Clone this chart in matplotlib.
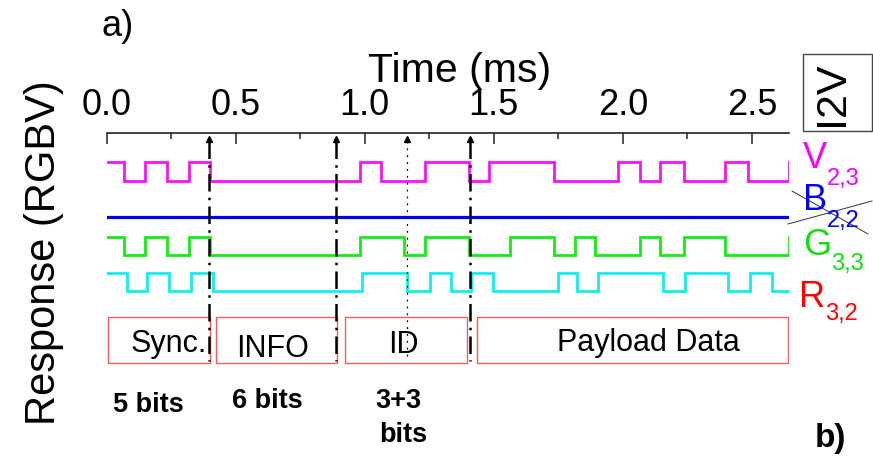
import matplotlib
matplotlib.use("Agg")
import matplotlib.pyplot as plt
from matplotlib.patches import Rectangle
from matplotlib.lines import Line2D

plt.rcParams['font.family'] = ['Liberation Sans', 'DejaVu Sans']

# ---- data: edge times (ms) and logic state held from each time on ----
t_end = 2.645

v_times = [0.0, 0.068, 0.149, 0.232, 0.317, 0.401, 0.983, 1.063, 1.233, 1.404,
           1.482, 1.732, 1.983, 2.066, 2.144, 2.236, 2.394, 2.485, t_end]
v_states = [1, 0, 1, 0, 1, 0, 1, 0, 1, 0, 1, 0, 1, 0, 1, 0, 1, 0, 1]

g_times = [0.0, 0.068, 0.149, 0.232, 0.317, 0.401, 0.983, 1.152, 1.232, 1.404,
           1.564, 1.732, 1.815, 1.893, 2.066, 2.144, 2.236, 2.396, t_end]
g_states = [1, 0, 1, 0, 1, 0, 1, 0, 1, 0, 1, 0, 1, 0, 1, 0, 1, 0, 1]

r_times = [0.0, 0.077, 0.158, 0.242, 0.327, 0.412, 0.991, 1.163, 1.251, 1.336,
           1.411, 1.495, 1.749, 1.824, 1.904, 2.154, 2.242, 2.407, 2.494, 2.577, t_end]
r_states = [1, 0, 1, 0, 1, 0, 1, 0, 1, 0, 1, 0, 1, 0, 1, 0, 1, 0, 1, 0, 0]

b_times = [0.0, t_end]
b_states = [0, 0]

# frame segments
seg_names = ['Sync.', 'INFO', 'ID', 'Payload Data']
seg_start = [0.004, 0.422, 0.924, 1.436]
seg_end = [0.400, 0.893, 1.397, 2.640]
bits_labels = ['5 bits', '6 bits', '3+3', 'bits']
bits_x = [0.160, 0.624, 1.129, 1.149]

# marker lines (ms)
dashdot_marks = [0.395, 0.890, 1.408]
dotted_marks = [1.163]

ticks_major = [0.0, 0.5, 1.0, 1.5, 2.0, 2.5]
ticks_minor = [0.25, 0.75, 1.25, 1.75, 2.25]

W, H = 873, 460


def fx(x):
    return x / W


def fy(y):
    return 1 - y / H


fig = plt.figure(figsize=(W / 100, H / 100), dpi=100)
x0, x1, ytop = 106.7, 789.3, 134
ax = fig.add_axes([fx(x0), 0, (x1 - x0) / W, (H - ytop) / H])
ax.set_xlim(0, t_end)
ax.set_ylim(H - ytop, 0)

# traces: (times, states, low level, colour, linewidth)
swing = 18.4
traces = [
    (v_times, v_states, 47.7, '#ff11ff', 2.0),
    (b_times, b_states, 84.3, '#0000ee', 2.3),
    (g_times, g_states, 122.0, '#11ee11', 2.0),
    (r_times, r_states, 158.3, '#11eeee', 2.0),
]
for times, states, low, col, lw in traces:
    ys = [low - s * swing for s in states]
    ax.step(times, ys, where='post', color=col, lw=lw, solid_joinstyle='miter')

# vertical marker lines with arrow tips
for xm in dashdot_marks:
    ax.plot([xm, xm], [8, 228], color='black', lw=1.8, ls=(0, (7, 2.5, 1, 2.5)))
    ax.plot([xm], [6], marker='^', color='black', ms=5)
for xm in dotted_marks:
    ax.plot([xm, xm], [8, 228], color='black', lw=0.9, ls=(0, (1.5, 4)))
    ax.plot([xm], [6], marker='^', color='black', ms=5)

# frame boxes
box_top, box_h = 184.3, 46
label_y = [218, 223, 219, 217]
label_dx = [0.037, -0.016, -0.01, 0.06]
for i, name in enumerate(seg_names):
    ax.add_patch(Rectangle((seg_start[i], box_top), seg_end[i] - seg_start[i], box_h,
                           fill=False, ec='#ff5a5a', lw=1.0))
    cx = (seg_start[i] + seg_end[i]) / 2 + label_dx[i]
    ax.text(cx, label_y[i], name, ha='center', va='baseline', fontsize=22)

bits_y = [278, 274, 274, 308]
for lab, bx, by in zip(bits_labels, bits_x, bits_y):
    ax.text(bx, by, lab, ha='center', va='baseline', fontsize=19.5, fontweight='bold')

# axis styling: time axis on top only
for s in ['left', 'right', 'bottom']:
    ax.spines[s].set_visible(False)
ax.spines['top'].set_color('#222222')
ax.spines['top'].set_linewidth(1.2)
ax.set_yticks([])
ax.set_xticks(ticks_major)
ax.set_xticks(ticks_minor, minor=True)
ax.set_xticklabels(['%.1f' % t for t in ticks_major])
ax.tick_params(axis='x', which='both', top=True, bottom=False, labeltop=True,
               labelbottom=False, direction='in', color='#222222', width=1.1)
ax.tick_params(axis='x', which='major', length=8, pad=8, labelsize=26)
ax.tick_params(axis='x', which='minor', length=4)
ax.set_xlabel('Time (ms)', fontsize=29.5)
ax.xaxis.set_label_position('top')
ax.xaxis.set_label_coords((460 - x0) / (x1 - x0), (H - 90) / (H - ytop))
ax.xaxis.label.set_va('bottom')

fig.text(fx(44), fy(253), 'Response (RGBV)', rotation=90, ha='center', va='center',
         fontsize=30)

# channel labels at right
chan = [('V', '2,3', '#ff00ff', 803, 168, 827, 185),
        ('B', '2,2', '#0000ff', 803, 210, 827, 227),
        ('G', '3,3', '#11dd11', 803, 255, 831, 270),
        ('R', '3,2', '#ff0000', 799, 307, 825, 320)]
for big, sub, col, bxp, byp, sxp, syp in chan:
    fig.text(fx(bxp), fy(byp), big, color=col, fontsize=26, ha='left', va='baseline')
    fig.text(fx(sxp), fy(syp), sub, color=col, fontsize=17, ha='left', va='baseline')

# thin cross over B
fig.add_artist(Line2D([fx(792), fx(868)], [fy(192), fy(235)], color='#333333', lw=0.7))
fig.add_artist(Line2D([fx(788), fx(872)], [fy(225), fy(202)], color='#333333', lw=0.7))

# supply voltage box
fig.add_artist(Rectangle((fx(803), fy(132)), (872 - 803) / W, (132 - 55) / H,
                         fill=False, ec='#444444', lw=1.0, transform=fig.transFigure))
fig.text(fx(832), fy(94), 'I2V', rotation=90, ha='center', va='center', fontsize=31)

fig.text(fx(118), fy(27), 'a)', ha='center', va='center', fontsize=26)
fig.text(fx(830), fy(438), 'b)', ha='center', va='center', fontsize=24, fontweight='bold')

fig.savefig('out.png', dpi=100)
